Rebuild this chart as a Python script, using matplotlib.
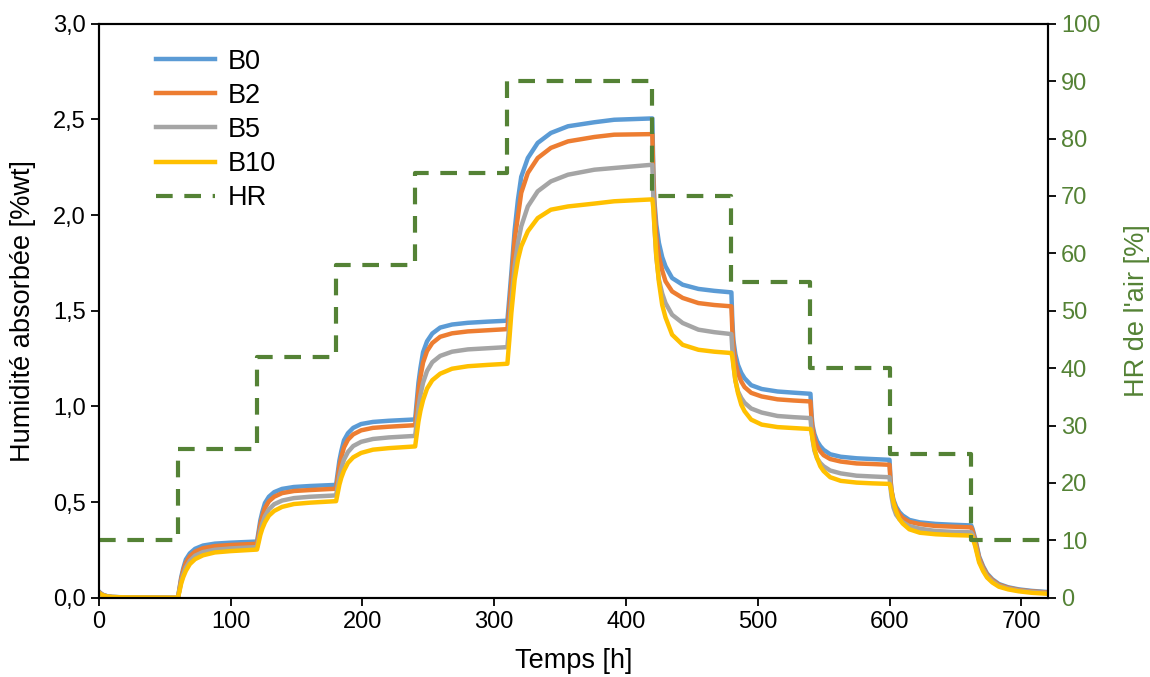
import matplotlib
matplotlib.use("Agg")
import matplotlib.pyplot as plt
from matplotlib.ticker import FuncFormatter, MultipleLocator

plt.rcParams['font.family'] = ['Liberation Sans', 'DejaVu Sans']

# temps [h] (grille commune aux 4 courbes)
temps = [0, 1, 3, 6, 10, 20, 40, 60,
         61, 62.5, 64, 66, 69, 73, 79, 88, 100, 120,
         121, 122.5, 124, 126, 129, 133, 139, 148, 160, 180,
         181, 182.5, 184, 186, 189, 193, 199, 208, 220, 240,
         241, 242.5, 244, 246, 249, 253, 259, 268, 280, 295, 310,
         311.5, 313, 315.5, 318, 320.5, 325.5, 333, 343, 356, 376, 391, 420,
         420.7, 421.5, 423, 425, 427.5, 430, 435, 443, 455, 467, 480,
         480.7, 481.5, 483, 485, 487.5, 490, 495, 503, 515, 527, 540,
         540.7, 541.5, 543, 545, 547.5, 550, 555, 563, 575, 587, 600,
         600.7, 601.5, 603, 605, 607.5, 610, 615, 623, 635, 647, 662,
         663, 665, 668, 671, 674, 678, 683, 690, 698, 708, 720]

b0 = [0.033, 0.026, 0.016, 0.009, 0.005, 0.002, 0.001, 0.0,
      0.044, 0.109, 0.153, 0.200, 0.232, 0.256, 0.273, 0.283, 0.288, 0.294,
      0.338, 0.404, 0.448, 0.495, 0.528, 0.552, 0.569, 0.579, 0.584, 0.590,
      0.641, 0.717, 0.768, 0.823, 0.860, 0.888, 0.908, 0.919, 0.925, 0.932,
      1.010, 1.123, 1.200, 1.283, 1.340, 1.381, 1.412, 1.428, 1.437, 1.443, 1.448,
      1.570, 1.697, 1.920, 2.080, 2.200, 2.298, 2.377, 2.429, 2.464, 2.485, 2.498, 2.505,
      2.250, 2.080, 1.950, 1.854, 1.780, 1.732, 1.671, 1.636, 1.614, 1.604, 1.596,
      1.448, 1.347, 1.273, 1.217, 1.175, 1.147, 1.111, 1.091, 1.078, 1.072, 1.066,
      0.969, 0.904, 0.856, 0.819, 0.792, 0.773, 0.750, 0.737, 0.729, 0.725, 0.721,
      0.625, 0.560, 0.512, 0.476, 0.448, 0.430, 0.407, 0.394, 0.386, 0.382, 0.378,
      0.360, 0.310, 0.216, 0.165, 0.127, 0.097, 0.072, 0.055, 0.044, 0.036, 0.030]

b2 = [0.030, 0.024, 0.015, 0.008, 0.004, 0.002, 0.001, 0.0,
      0.039, 0.099, 0.141, 0.183, 0.217, 0.241, 0.259, 0.270, 0.276, 0.282,
      0.322, 0.383, 0.426, 0.469, 0.504, 0.528, 0.547, 0.558, 0.563, 0.570,
      0.616, 0.686, 0.736, 0.786, 0.826, 0.854, 0.875, 0.888, 0.894, 0.902,
      0.972, 1.078, 1.153, 1.229, 1.289, 1.331, 1.364, 1.382, 1.392, 1.398, 1.404,
      1.520, 1.650, 1.871, 1.993, 2.116, 2.220, 2.298, 2.351, 2.385, 2.408, 2.420, 2.423,
      2.200, 2.050, 1.890, 1.784, 1.710, 1.654, 1.601, 1.567, 1.540, 1.530, 1.523,
      1.399, 1.319, 1.230, 1.173, 1.130, 1.101, 1.071, 1.052, 1.037, 1.031, 1.026,
      0.943, 0.890, 0.831, 0.793, 0.765, 0.745, 0.725, 0.712, 0.702, 0.699, 0.695,
      0.613, 0.561, 0.502, 0.464, 0.437, 0.417, 0.397, 0.385, 0.375, 0.372, 0.368,
      0.350, 0.300, 0.208, 0.158, 0.121, 0.092, 0.068, 0.052, 0.041, 0.033, 0.028]

b5 = [0.028, 0.022, 0.014, 0.008, 0.004, 0.002, 0.001, 0.0,
      0.034, 0.085, 0.122, 0.159, 0.193, 0.220, 0.239, 0.251, 0.258, 0.265,
      0.300, 0.351, 0.389, 0.427, 0.462, 0.489, 0.508, 0.521, 0.528, 0.535,
      0.575, 0.635, 0.678, 0.722, 0.762, 0.793, 0.815, 0.830, 0.838, 0.846,
      0.906, 0.994, 1.059, 1.124, 1.185, 1.231, 1.264, 1.286, 1.298, 1.304, 1.310,
      1.430, 1.550, 1.732, 1.854, 1.941, 2.045, 2.124, 2.176, 2.211, 2.237, 2.246, 2.263,
      2.100, 1.950, 1.780, 1.662, 1.590, 1.540, 1.479, 1.436, 1.401, 1.388, 1.378,
      1.299, 1.224, 1.137, 1.079, 1.044, 1.019, 0.989, 0.968, 0.950, 0.944, 0.939,
      0.883, 0.831, 0.769, 0.729, 0.704, 0.687, 0.665, 0.650, 0.638, 0.634, 0.630,
      0.578, 0.529, 0.472, 0.434, 0.411, 0.395, 0.375, 0.361, 0.349, 0.345, 0.342,
      0.330, 0.280, 0.195, 0.148, 0.113, 0.086, 0.063, 0.048, 0.038, 0.030, 0.025]

b10 = [0.026, 0.020, 0.013, 0.007, 0.004, 0.002, 0.001, 0.0,
       0.030, 0.076, 0.108, 0.141, 0.176, 0.202, 0.222, 0.237, 0.244, 0.252,
       0.282, 0.328, 0.361, 0.394, 0.429, 0.454, 0.475, 0.490, 0.497, 0.505,
       0.539, 0.591, 0.628, 0.665, 0.705, 0.734, 0.757, 0.774, 0.782, 0.791,
       0.843, 0.921, 0.977, 1.033, 1.093, 1.137, 1.171, 1.197, 1.210, 1.217, 1.223,
       1.350, 1.488, 1.662, 1.767, 1.836, 1.915, 1.984, 2.028, 2.045, 2.060, 2.072, 2.082,
       2.040, 1.950, 1.790, 1.650, 1.530, 1.465, 1.375, 1.322, 1.296, 1.286, 1.279,
       1.259, 1.215, 1.136, 1.069, 1.009, 0.975, 0.931, 0.905, 0.892, 0.887, 0.882,
       0.868, 0.836, 0.779, 0.730, 0.687, 0.662, 0.630, 0.611, 0.602, 0.598, 0.595,
       0.582, 0.552, 0.498, 0.452, 0.411, 0.388, 0.358, 0.340, 0.332, 0.328, 0.325,
       0.315, 0.270, 0.185, 0.140, 0.106, 0.080, 0.058, 0.044, 0.034, 0.026, 0.021]

# humidite relative de l'air (paliers)
hr_temps = [0, 60, 120, 180, 240, 310, 420, 480, 540, 600, 662, 720]
hr = [10, 26, 42, 58, 74, 90, 70, 55, 40, 25, 10, 10]

vert = '#548235'

fig, ax = plt.subplots(figsize=(11.5, 6.77), dpi=100)
fig.subplots_adjust(left=0.086, right=0.911, top=0.965, bottom=0.117)

l0, = ax.plot(temps, b0, color='#5B9BD5', lw=3.2, label='B0')
l2, = ax.plot(temps, b2, color='#ED7D31', lw=3.2, label='B2')
l5, = ax.plot(temps, b5, color='#A5A5A5', lw=3.2, label='B5')
l10, = ax.plot(temps, b10, color='#FFC000', lw=3.2, label='B10')

ax2 = ax.twinx()
lhr, = ax2.step(hr_temps, hr, where='post', color=vert, lw=3.0,
                dashes=(4.0, 2.8), label='HR')

ax.set_xlim(0, 720)
ax.set_ylim(0, 3.0)
ax2.set_ylim(0, 100)
ax.xaxis.set_major_locator(MultipleLocator(100))
ax.yaxis.set_major_locator(MultipleLocator(0.5))
ax2.yaxis.set_major_locator(MultipleLocator(10))
ax.yaxis.set_major_formatter(FuncFormatter(lambda v, p: f'{v:.1f}'.replace('.', ',')))

ax.tick_params(direction='out', length=6, width=1.3, labelsize=17, colors='black')
ax2.tick_params(direction='out', length=6, width=1.3, labelsize=17, colors='black',
                labelcolor=vert)
for a in (ax, ax2):
    for s in a.spines.values():
        s.set_linewidth(1.5)

ax.set_xlabel('Temps [h]', fontsize=19.5, labelpad=11)
ax.set_ylabel('Humidité absorbée [%wt]', fontsize=19.5, labelpad=12)
ax2.set_ylabel("HR de l'air [%]", fontsize=19.5, color=vert, labelpad=17)

leg = ax2.legend(handles=[l0, l2, l5, l10, lhr], loc='upper left',
                 bbox_to_anchor=(0.034, 0.999), frameon=False, fontsize=19.5,
                 handlelength=2.2, labelspacing=0.3, handletextpad=0.48)

fig.savefig('out.png', dpi=100)
